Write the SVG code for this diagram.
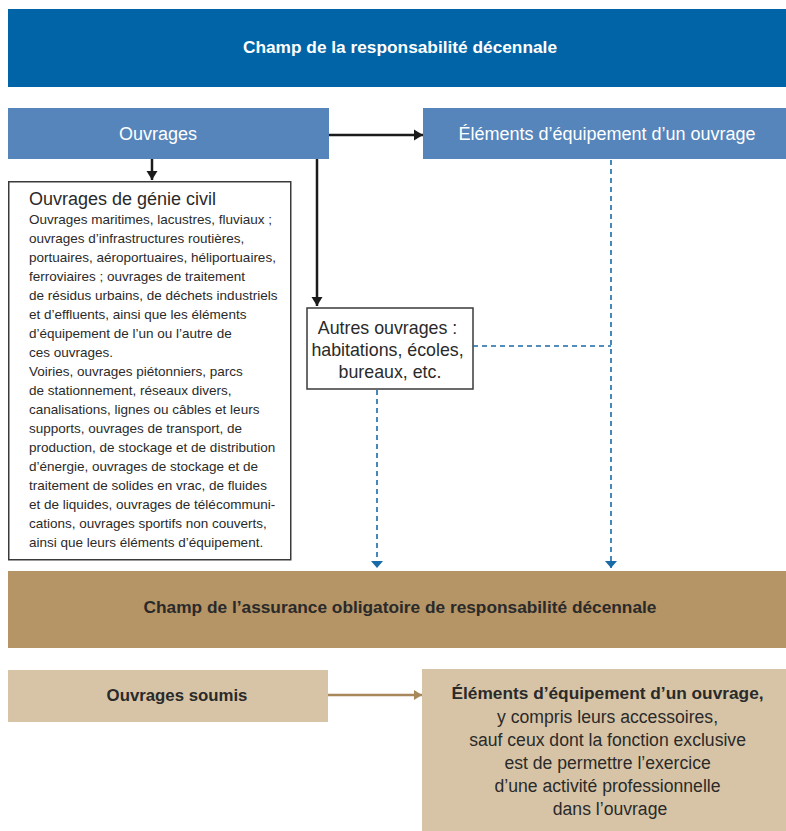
<svg xmlns="http://www.w3.org/2000/svg" width="786" height="831" viewBox="0 0 786 831">
<style>
text{font-family:"Liberation Sans","DejaVu Sans",sans-serif;}
.w{fill:#ffffff}
.k{fill:#2a2a2a}
.b{font-weight:bold}
.c{text-anchor:middle}
.body{font-size:13.5px;fill:#2a2a2a}
.bl{stroke:#1b1b1b;stroke-width:2.5;fill:none}
.ds{stroke:#1a6aa8;stroke-width:1.6;fill:none;stroke-dasharray:5,4}
</style>
<defs>
<marker id="ak" markerWidth="12" markerHeight="12" refX="9" refY="6" orient="auto" markerUnits="userSpaceOnUse"><path d="M0,0.5 L9,6 L0,11.5 Z" fill="#1b1b1b"/></marker>
<marker id="ab" markerWidth="12" markerHeight="14" refX="7" refY="7" orient="auto" markerUnits="userSpaceOnUse"><path d="M0,1 L7,7 L0,13 Z" fill="#1a6aa8"/></marker>
<marker id="ag" markerWidth="12" markerHeight="12" refX="8" refY="6" orient="auto" markerUnits="userSpaceOnUse"><path d="M0,1 L8,6 L0,11 Z" fill="#a8875a"/></marker>
</defs>
<g id="champ-decennale">
<rect x="8" y="9" width="778" height="78" fill="#0064a6"/>
<text x="400" y="53" class="w b c" font-size="17.3">Champ de la responsabilité décennale</text>
</g>
<g id="ouvrages">
<rect x="8" y="108" width="321" height="51" fill="#5585ba"/>
<text x="158" y="140" class="w c" font-size="18">Ouvrages</text>
</g>
<g id="elements">
<rect x="423" y="108" width="363" height="51" fill="#5585ba"/>
<text x="607" y="140" class="w c" font-size="18">Éléments d’équipement d’un ouvrage</text>
</g>
<g id="genie-civil">
<rect x="8.75" y="181.75" width="282" height="378" fill="#ffffff" stroke="#3a3a3a" stroke-width="1.5"/>
<text x="29" y="205" class="k" font-size="18">Ouvrages de génie civil</text>
<text class="body">
<tspan x="29" y="224">Ouvrages maritimes, lacustres, fluviaux ;</tspan>
<tspan x="29" y="243">ouvrages d’infrastructures routières,</tspan>
<tspan x="29" y="262">portuaires, aéroportuaires, héliportuaires,</tspan>
<tspan x="29" y="281">ferroviaires ; ouvrages de traitement</tspan>
<tspan x="29" y="300">de résidus urbains, de déchets industriels</tspan>
<tspan x="29" y="319">et d’effluents, ainsi que les éléments</tspan>
<tspan x="29" y="338">d’équipement de l’un ou l’autre de</tspan>
<tspan x="29" y="357">ces ouvrages.</tspan>
<tspan x="29" y="376">Voiries, ouvrages piétonniers, parcs</tspan>
<tspan x="29" y="395">de stationnement, réseaux divers,</tspan>
<tspan x="29" y="414">canalisations, lignes ou câbles et leurs</tspan>
<tspan x="29" y="433">supports, ouvrages de transport, de</tspan>
<tspan x="29" y="452">production, de stockage et de distribution</tspan>
<tspan x="29" y="471">d’énergie, ouvrages de stockage et de</tspan>
<tspan x="29" y="490">traitement de solides en vrac, de fluides</tspan>
<tspan x="29" y="509">et de liquides, ouvrages de télécommuni-</tspan>
<tspan x="29" y="528">cations, ouvrages sportifs non couverts,</tspan>
<tspan x="29" y="547">ainsi que leurs éléments d’équipement.</tspan>
</text>
</g>
<g id="autres-ouvrages">
<rect x="307" y="308" width="166" height="81" fill="#ffffff" stroke="#3a3a3a" stroke-width="1.5"/>
<text class="k c" font-size="17.8">
<tspan x="390" y="334">Autres ouvrages :</tspan>
<tspan x="390" y="356">habitations, écoles,</tspan>
<tspan x="390" y="378">bureaux, etc.</tspan>
</text>
</g>
<g id="champ-assurance">
<rect x="8" y="571" width="778" height="77" fill="#b59466"/>
<text x="400" y="613" class="k b c" font-size="17.3">Champ de l’assurance obligatoire de responsabilité décennale</text>
</g>
<g id="ouvrages-soumis">
<rect x="8" y="670" width="320" height="52" fill="#d7c4a6"/>
<text x="177" y="701" class="k b c" font-size="16.8">Ouvrages soumis</text>
</g>
<g id="elements-soumis">
<rect x="422" y="669" width="364" height="162" fill="#d7c4a6"/>
<text class="k c" font-size="17.6">
<tspan x="610" y="699" font-weight="bold" font-size="17.3">Éléments d’équipement d’un ouvrage,</tspan>
<tspan x="610" y="723">y compris leurs accessoires,</tspan>
<tspan x="610" y="746">sauf ceux dont la fonction exclusive</tspan>
<tspan x="610" y="769">est de permettre l’exercice</tspan>
<tspan x="610" y="792">d’une activité professionnelle</tspan>
<tspan x="610" y="815">dans l’ouvrage</tspan>
</text>
</g>
<g id="connectors">
<line x1="329" y1="135" x2="423" y2="135" class="bl" marker-end="url(#ak)"/>
<line x1="152" y1="159" x2="152" y2="180" class="bl" marker-end="url(#ak)"/>
<line x1="317" y1="159" x2="317" y2="306" class="bl" marker-end="url(#ak)"/>
<line x1="611" y1="160" x2="611" y2="568" class="ds" marker-end="url(#ab)"/>
<line x1="473" y1="346" x2="611" y2="346" class="ds"/>
<line x1="377" y1="390" x2="377" y2="568" class="ds" marker-end="url(#ab)"/>
<line x1="328" y1="695" x2="422" y2="695" stroke="#a8875a" stroke-width="2.5" marker-end="url(#ag)"/>
</g>
</svg>
